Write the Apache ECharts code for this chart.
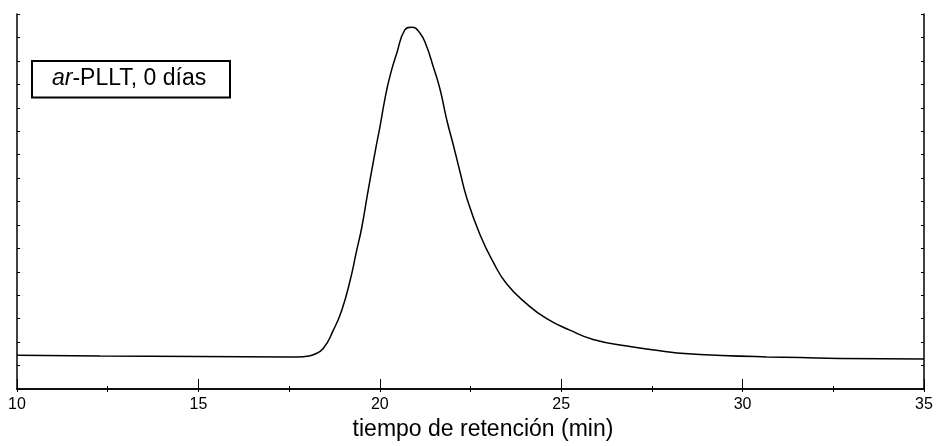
<!DOCTYPE html>
<html>
<head>
<meta charset="utf-8">
<script src="https://cdn.jsdelivr.net/npm/echarts@6/dist/echarts.min.js"></script>
<style>html,body{margin:0;padding:0;background:#fff;}#c{width:937px;height:446px;}</style>
</head>
<body>
<div id="c"></div>
<script>
// retention time (min)
var time = [10.00, 12.30, 15.00, 17.50, 17.90, 18.17, 18.44, 18.72, 18.95, 19.18, 19.36, 19.50, 19.66, 19.87, 20.01, 20.14, 20.28, 20.47, 20.69, 20.88, 21.11, 21.29, 21.47, 21.66, 21.84, 22.03, 22.21, 22.40, 22.76, 23.13, 23.50, 24.05, 24.60, 25.24, 25.88, 26.81, 27.72, 28.50, 29.42, 30.66, 31.58, 32.68, 35.00];
// detector signal (arbitrary units)
var signal = [1.44, 1.41, 1.39, 1.37, 1.38, 1.46, 1.73, 2.51, 3.35, 4.62, 5.89, 6.87, 8.30, 10.11, 11.24, 12.37, 13.35, 14.34, 15.32, 15.44, 15.18, 14.62, 13.77, 12.79, 11.52, 10.39, 9.27, 8.14, 6.59, 5.40, 4.48, 3.63, 3.00, 2.51, 2.11, 1.83, 1.63, 1.50, 1.43, 1.37, 1.34, 1.30, 1.28];
var xTicks = ['10', '15', '20', '25', '30', '35'];
var xTitle = 'tiempo de retención (min)';
var legendItalic = 'ar';
var legendRest = '-PLLT, 0 días';

var pts = time.map(function (t, i) { return [t, signal[i]]; });
var FONT = 'Liberation Sans, Arial, sans-serif';
var chart = echarts.init(document.getElementById('c'), null, {renderer: 'canvas'});
chart.setOption({
  animation: false,
  backgroundColor: '#fff',
  grid: {left: 17, right: 13, top: 14, bottom: 53.3, containLabel: false},
  xAxis: [{
    type: 'value', position: 'bottom', min: 10, max: 35, interval: 5,
    axisLine: {show: true, lineStyle: {color: '#000', width: 1.5}},
    axisTick: {show: true, inside: true, length: 10, lineStyle: {color: '#000', width: 1}},
    minorTick: {show: true, splitNumber: 2, length: 3, lineStyle: {color: '#000', width: 1}},
    splitLine: {show: false},
    axisLabel: {show: true, margin: 8, fontSize: 16, color: '#000', fontFamily: FONT,
      formatter: function (v) { var s = String(v); return xTicks.indexOf(s) >= 0 ? s : ''; }},
    name: xTitle, nameLocation: 'middle', nameGap: 29,
    nameTextStyle: {fontSize: 23, color: '#000', fontFamily: FONT, padding: [0, 0, 0, 25]}
  }, {
    type: 'value', position: 'top', min: 10, max: 35, interval: 2.5,
    axisLine: {show: true, lineStyle: {color: '#000', width: 1.5}},
    axisTick: {show: true, inside: true, length: 3, lineStyle: {color: '#000', width: 1}},
    splitLine: {show: false}, axisLabel: {show: false}
  }],
  yAxis: [{
    type: 'value', position: 'left', min: 0, max: 16, interval: 1,
    axisLine: {show: true, lineStyle: {color: '#000', width: 1.5}},
    axisTick: {show: true, inside: true, length: 3, lineStyle: {color: '#000', width: 1}},
    splitLine: {show: false}, axisLabel: {show: false}
  }, {
    type: 'value', position: 'right', min: 0, max: 16, interval: 1,
    axisLine: {show: true, lineStyle: {color: '#000', width: 1.5}},
    axisTick: {show: true, inside: true, length: 3, lineStyle: {color: '#000', width: 1}},
    splitLine: {show: false}, axisLabel: {show: false}
  }],
  series: [{
    type: 'line', xAxisIndex: 0, yAxisIndex: 0, data: pts,
    showSymbol: false, smooth: 0.5,
    lineStyle: {color: '#000', width: 1.5}
  }],
  graphic: [{
    type: 'rect', left: 31, top: 60,
    shape: {width: 198, height: 36.5},
    style: {fill: '#fff', stroke: '#000', lineWidth: 2}
  }, {
    type: 'text', x: 52, y: 78.5,
    style: {
      text: '{i|' + legendItalic + '}{n|' + legendRest + '}',
      verticalAlign: 'middle',
      rich: {
        i: {fontSize: 23, fontStyle: 'italic', fontFamily: FONT, fill: '#000'},
        n: {fontSize: 23, fontFamily: FONT, fill: '#000'}
      }
    }
  }]
});
</script>
</body>
</html>
